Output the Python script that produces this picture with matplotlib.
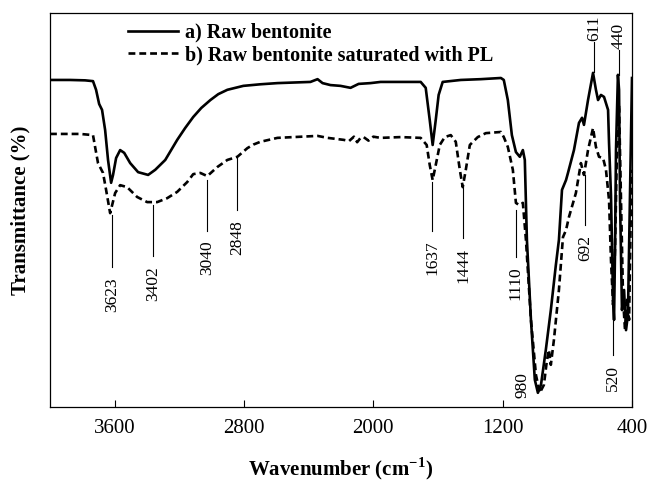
import matplotlib
matplotlib.use("Agg")
import matplotlib.pyplot as plt

plt.rcParams['font.family'] = ['Liberation Serif', 'DejaVu Serif']
plt.rcParams['mathtext.fontset'] = 'custom'
plt.rcParams['mathtext.rm'] = 'Liberation Serif'
plt.rcParams['mathtext.bf'] = 'Liberation Serif:bold'

# ---- data (wavenumber in cm-1, transmittance in arbitrary %) ----
wn_a = [4000, 3876, 3783, 3734, 3715, 3696, 3678, 3659, 3641, 3622, 3610, 3591, 3566, 3541, 3504,
        3455, 3393, 3349, 3287, 3213, 3164, 3114, 3064, 3008, 2959, 2903, 2804, 2699, 2593, 2389,
        2345, 2314, 2265, 2203,
        2141, 2091, 2017, 1955, 1831, 1707, 1676, 1651, 1633, 1614, 1596, 1571, 1459, 1335, 1211,
        1193, 1168, 1143, 1118, 1094, 1075, 1063, 1050, 1025, 1001, 982, 963, 933, 902, 871,
        852, 833, 808, 796, 759, 728, 709, 697, 672, 641, 623, 610, 592, 573, 548,
        542, 530, 517, 511, 505, 499, 487, 480, 474, 462, 449, 437, 425, 413, 400]
T_a = [83.0, 83.0, 82.9, 82.7, 80.5, 76.9, 75.4, 70.3, 62.7, 56.9, 58.9, 63.2, 65.2, 64.5, 61.9,
       59.6, 58.9, 60.2, 62.7, 67.8, 70.8, 73.6, 75.9, 77.9, 79.4, 80.5, 81.5, 81.9, 82.2, 82.5,
       83.2, 82.2, 81.7, 81.5,
       81.0, 82.0, 82.2, 82.5, 82.5, 82.5, 81.0, 72.8, 66.5, 72.8, 79.2, 82.5, 83.0, 83.2, 83.5,
       83.0, 77.9, 69.0, 64.7, 63.5, 65.2, 62.7, 42.4, 22.1, 6.9, 3.6, 5.6, 14.5, 24.6, 36.0,
       42.4, 55.1, 57.6, 59.4, 65.2, 72.1, 73.4, 71.6, 77.9, 84.8, 80.5, 77.9, 79.2, 78.7, 75.4,
       67.0, 53.8, 27.2, 22.1, 39.8, 65.2, 84.3, 80.5, 52.5, 24.6, 29.7, 19.5, 23.4, 52.5, 83.5]

wn_b = [4000, 3814, 3734, 3721, 3703, 3672, 3653, 3628, 3597, 3566, 3523, 3461, 3399, 3337, 3275,
        3213, 3151, 3114, 3070, 3027, 2965, 2903, 2841, 2779, 2742, 2699, 2593, 2494, 2345, 2283, 2184,
        2150, 2120, 2100, 2079, 2060, 2030, 2000, 1955, 1831, 1707, 1670, 1651, 1633, 1614, 1589,
        1558, 1521, 1490, 1465, 1447, 1428, 1403, 1354, 1304, 1211, 1193, 1168, 1137, 1118, 1100,
        1075, 1056, 1025, 994, 970, 945, 926, 914, 902, 883, 852, 827, 808, 790, 747,
        716, 697, 672, 641, 623, 604, 579, 561, 542, 530, 517, 505, 493, 480, 468,
        455, 443, 431, 418, 406, 400]
T_b = [69.3, 69.3, 69.0, 66.0, 61.9, 59.4, 55.1, 49.2, 54.3, 56.3, 55.8, 53.3, 52.0, 52.0, 53.0,
       54.6, 57.1, 59.1, 59.4, 58.6, 60.9, 62.7, 63.5, 65.7, 66.6, 67.3, 68.3, 68.5, 68.8, 68.3, 67.8,
       67.5, 68.6, 67.2, 68.3, 68.5, 67.6, 68.6, 68.3, 68.5, 68.3, 66.5, 61.4, 57.6, 61.4, 66.5,
       68.5, 69.0, 67.3, 60.2, 55.8, 60.2, 66.5, 68.5, 69.5, 69.8, 68.5, 66.0, 60.2, 51.8, 51.3,
       51.8, 42.4, 22.1, 8.1, 3.6, 5.6, 11.9, 14.5, 10.7, 17.0, 29.7, 43.1, 44.9, 48.2, 54.3,
       61.9, 58.9, 65.2, 70.8, 66.0, 63.5, 63.2, 60.2, 52.5, 37.3, 25.9, 39.8, 65.2, 76.6, 52.5,
       27.2, 19.5, 27.2, 22.1, 52.5, 60.2]

series_labels = ["a) Raw bentonite", "b) Raw bentonite saturated with PL"]
tick_values = [3600, 2800, 2000, 1200, 400]

# peak annotations: label, x, line top, line bottom  (labels below the line)
peaks_below = [("3623", 3614, 48.7, 35.5), ("3402", 3364, 51.3, 38.3),
               ("3040", 3027, 57.6, 44.7), ("2848", 2843, 63.2, 50.0),
               ("1637", 1635, 57.1, 44.7), ("1444", 1445, 55.8, 42.9),
               ("1110", 1118, 50.0, 38.1), ("692", 691, 58.9, 46.2),
               ("520", 517, 27.2, 13.2)]
# labels above the line
peaks_above = [("611", 635, 92.6, 85.0), ("440", 480, 90.6, 84.3)]

fig = plt.figure(figsize=(6.51, 4.86), dpi=100)
ax = fig.add_axes([0.0768, 0.1626, 0.894, 0.8107])

ax.plot(wn_a, T_a, color='black', lw=1.9, solid_joinstyle='round', label=series_labels[0])
ax.plot(wn_b, T_b, color='black', lw=1.9, linestyle=(0, (2.6, 1.5)), label=series_labels[1])

for lab, x, y1, y2 in peaks_below:
    ax.plot([x, x], [y1, y2], color='black', lw=0.8)
    ax.text(x, y2 - 2.5, lab, rotation=90, ha='center', va='top', fontsize=12.5)
for lab, x, y1, y2 in peaks_above:
    ax.plot([x, x], [y1, y2], color='black', lw=0.8)
    ax.text(x, y1 + 0.3, lab, rotation=90, ha='center', va='bottom', fontsize=12.5)
ax.text(1075, 5.6, "980", rotation=90, ha='center', va='center', fontsize=12.5)

ax.set_xlim(4000, 400)
ax.set_ylim(0, 100)
ax.set_xticks(tick_values)
ax.set_xticklabels([str(v) for v in tick_values])
ax.set_yticks([])
ax.tick_params(axis='x', direction='in', length=5, width=0.8, labelsize=15, pad=9)
for s in ax.spines.values():
    s.set_linewidth(0.9)

ax.set_xlabel(r"Wavenumber (cm$^{\mathbf{-1}}$)", fontsize=15, fontweight='bold', labelpad=12)
ax.set_ylabel("Transmittance (%)", fontsize=15, fontweight='bold', labelpad=14)

leg = ax.legend(loc='upper left', bbox_to_anchor=(0.134, 0.975), frameon=False,
                prop={'weight': 'bold', 'size': 14.5}, handlelength=2.5, handletextpad=0.35,
                labelspacing=0.12, borderpad=0, borderaxespad=0)

fig.savefig("out.png", dpi=100)
